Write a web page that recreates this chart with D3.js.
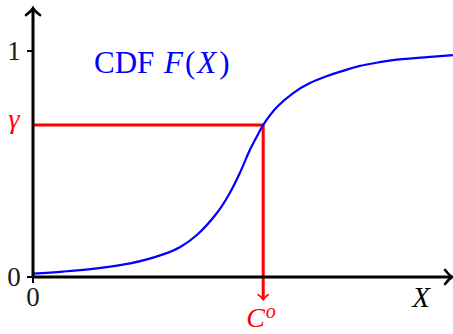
<!DOCTYPE html>
<html>
<head>
<meta charset="utf-8">
<script src="https://cdn.jsdelivr.net/npm/d3@7"></script>
<style>
  body { margin: 0; background: #fff; }
  svg { display: block; }
  text { font-family: "Liberation Serif", "DejaVu Serif", serif; }
</style>
</head>
<body>
<svg width="453" height="334"></svg>
<script>
// Values
const xs = [0, 0.72, 1.53, 2.33, 3.12, 3.53, 3.93, 4.41, 4.72, 4.96, 5.20, 5.40, 5.52, 5.85, 6.24, 6.64, 7.05, 7.43, 7.84, 8.27, 8.63, 9.45, 10.07];
const cdf = [0.015, 0.024, 0.038, 0.060, 0.100, 0.133, 0.186, 0.283, 0.372, 0.460, 0.562, 0.633, 0.673, 0.752, 0.814, 0.858, 0.889, 0.912, 0.934, 0.949, 0.960, 0.973, 0.982];
const gamma = 0.673;   // level
const cStar = 5.52;    // C^o
const yTicks = [0, 1];
const xTicks = [0];

const svg = d3.select("svg"),
  width = +svg.attr("width"),
  height = +svg.attr("height");

const x = d3.scaleLinear().domain([0, 10]).range([33, 450]);
const y = d3.scaleLinear().domain([0, 1]).range([277, 51]);

// arrow heads (open chevrons)
const defs = svg.append("defs");
function chevron(id, color, w, s) {
  defs.append("marker")
    .attr("id", id)
    .attr("markerUnits", "userSpaceOnUse")
    .attr("viewBox", "-10 -10 20 20")
    .attr("refX", 0).attr("refY", 0)
    .attr("markerWidth", 20).attr("markerHeight", 20)
    .attr("orient", "auto")
    .append("path")
    .attr("d", `M${-s},${-s}Q${-s * 0.35},${-s * 0.2} 0,0Q${-s * 0.35},${s * 0.2} ${-s},${s}`)
    .attr("fill", "none")
    .attr("stroke", color)
    .attr("stroke-width", w)
    .attr("stroke-linecap", "round");
}
chevron("arrBlack", "#000", 2.6, 7);
chevron("arrRed", "#ff0000", 1.6, 5);

// Red guide lines: gamma -> curve -> down to C^o
svg.append("path")
  .attr("d", d3.line()([[x(0), y(gamma)], [x(cStar), y(gamma)], [x(cStar), y(-0.1)]]))
  .attr("fill", "none")
  .attr("stroke", "#ff0000")
  .attr("stroke-width", 3);
// small arrow at the bottom of the vertical red line
svg.append("line")
  .attr("x1", x(cStar)).attr("x2", x(cStar))
  .attr("y1", y(-0.05)).attr("y2", y(-0.1))
  .attr("stroke", "#ff0000")
  .attr("stroke-width", 1.5)
  .attr("marker-end", "url(#arrRed)");

// CDF curve
svg.append("path")
  .datum(xs.map((d, i) => [d, cdf[i]]))
  .attr("d", d3.line()
    .x(d => x(d[0]))
    .y(d => y(d[1]))
    .curve(d3.curveCatmullRom.alpha(0.5)))
  .attr("fill", "none")
  .attr("stroke", "#0000ff")
  .attr("stroke-width", 2.2);

// Axes
svg.append("line")
  .attr("x1", x(0)).attr("y1", y(0))
  .attr("x2", x(10.05)).attr("y2", y(0))
  .attr("stroke", "#000").attr("stroke-width", 3)
  .attr("marker-end", "url(#arrBlack)");
svg.append("line")
  .attr("x1", x(0)).attr("y1", y(0))
  .attr("x2", x(0)).attr("y2", y(1.19))
  .attr("stroke", "#000").attr("stroke-width", 3)
  .attr("marker-end", "url(#arrBlack)");

// y ticks
svg.selectAll(".ytick")
  .data(yTicks)
  .join("line")
  .attr("x1", x(0) - 6).attr("x2", x(0))
  .attr("y1", d => y(d)).attr("y2", d => y(d))
  .attr("stroke", "#000").attr("stroke-width", 2);
svg.selectAll(".ylab")
  .data(yTicks)
  .join("text")
  .attr("x", 14)
  .attr("y", d => y(d) + 9)
  .attr("text-anchor", "middle")
  .style("font-size", "27px")
  .attr("fill", "#1a1a1a")
  .text(d => d);

// x ticks
svg.selectAll(".xtick")
  .data(xTicks)
  .join("line")
  .attr("x1", d => x(d)).attr("x2", d => x(d))
  .attr("y1", y(0)).attr("y2", y(0) + 6)
  .attr("stroke", "#000").attr("stroke-width", 2);
svg.selectAll(".xlab")
  .data(xTicks)
  .join("text")
  .attr("x", d => x(d))
  .attr("y", y(0) + 29)
  .attr("text-anchor", "middle")
  .style("font-size", "27px")
  .attr("fill", "#1a1a1a")
  .text(d => d);

// gamma label
svg.append("text")
  .attr("x", 14)
  .attr("y", y(gamma) + 3)
  .attr("text-anchor", "middle")
  .style("font-size", "28px")
  .style("font-style", "italic")
  .attr("fill", "#ff0000")
  .text("γ");

// X axis label
svg.append("text")
  .attr("x", 421)
  .attr("y", y(0) + 30)
  .attr("text-anchor", "middle")
  .style("font-size", "29px")
  .style("font-style", "italic")
  .text("X");

// C^o label
const cl = svg.append("text")
  .attr("x", x(cStar) - 17)
  .attr("y", 327)
  .style("font-size", "28px")
  .style("font-style", "italic")
  .attr("fill", "#ff0000");
cl.append("tspan").text("C");
cl.append("tspan").attr("dx", 1).attr("dy", -9).style("font-size", "20px").text("o");

// Curve title
const t = svg.append("text")
  .attr("y", 73)
  .style("font-size", "31px")
  .attr("fill", "#0000ff");
t.append("tspan").attr("x", 94).text("CDF");
t.append("tspan").attr("x", 164).style("font-style", "italic").text("F");
t.append("tspan").attr("dx", 2).text("(");
t.append("tspan").attr("dx", 2).style("font-style", "italic").text("X");
t.append("tspan").attr("dx", 3).text(")");
</script>
</body>
</html>
